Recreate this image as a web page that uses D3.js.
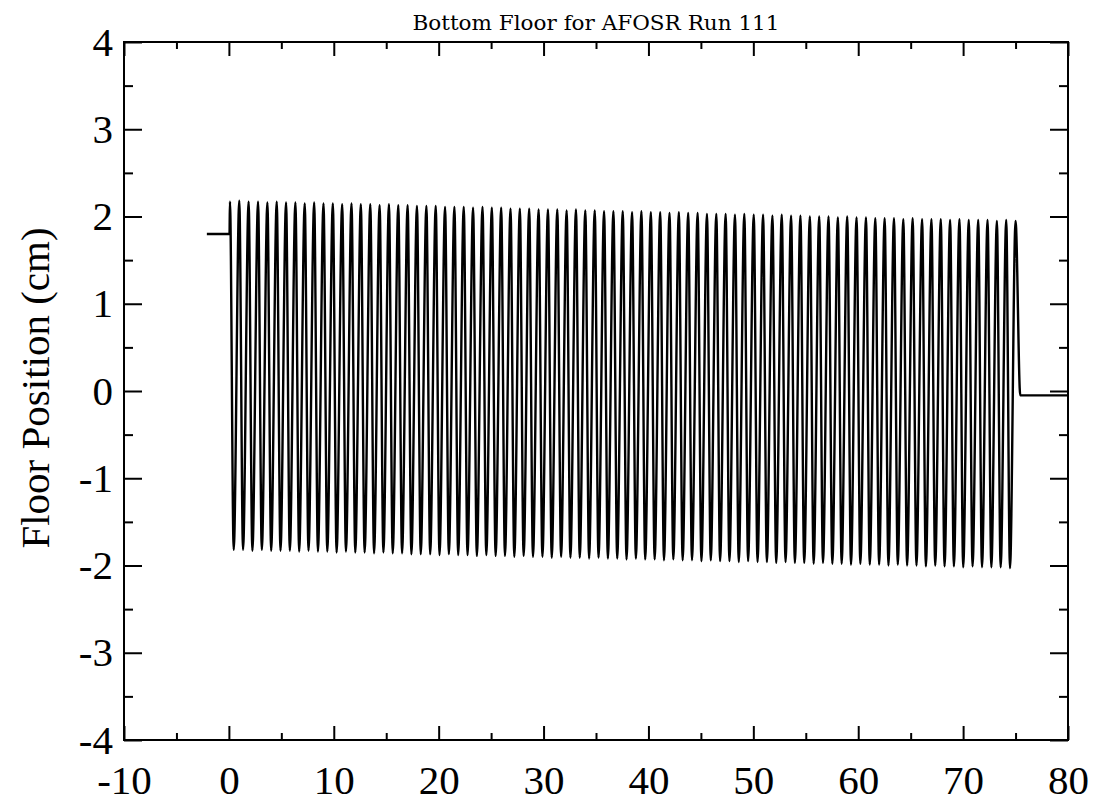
<!DOCTYPE html>
<html><head><meta charset="utf-8">
<script src="https://cdn.jsdelivr.net/npm/d3@7"></script>
<style>body{margin:0;background:#fff}svg{display:block}</style>
</head><body><svg id="c" width="1101" height="804"></svg>
<script>
const title = "Bottom Floor for AFOSR Run 111";
const yLabel = "Floor Position (cm)";
const xTicks = [-10,0,10,20,30,40,50,60,70,80];
const xMinor = [-5,5,15,25,35,45,55,65,75];
const yTicks = [-4,-3,-2,-1,0,1,2,3,4];
const yMinor = [-3.5,-2.5,-1.5,-0.5,0.5,1.5,2.5,3.5];
const leadX = [-2.1, 0.06];
const leadY = [1.80, 1.80];
const peakT = [0.10,0.99,1.88,2.78,3.67,4.56,5.45,6.34,7.23,8.13,9.02,9.91,10.80,11.69,12.58,13.48,14.37,15.26,16.15,17.04,17.93,18.83,19.72,20.61,21.50,22.39,23.28,24.18,25.07,25.96,26.85,27.74,28.63,29.53,30.42,31.31,32.20,33.09,33.98,34.88,35.77,36.66,37.55,38.44,39.33,40.23,41.12,42.01,42.90,43.79,44.69,45.58,46.47,47.36,48.25,49.14,50.04,50.93,51.82,52.71,53.60,54.49,55.39,56.28,57.17,58.06,58.95,59.84,60.74,61.63,62.52,63.41,64.30,65.19,66.09,66.98,67.87,68.76,69.65,70.54,71.44,72.33,73.22,74.11,75.00];
const peakV = [2.17,2.18,2.17,2.17,2.16,2.17,2.16,2.16,2.15,2.16,2.15,2.15,2.14,2.15,2.14,2.14,2.13,2.14,2.13,2.13,2.12,2.12,2.12,2.11,2.11,2.11,2.10,2.11,2.10,2.10,2.09,2.09,2.09,2.08,2.08,2.08,2.07,2.08,2.07,2.07,2.06,2.06,2.06,2.05,2.06,2.05,2.05,2.04,2.05,2.04,2.04,2.03,2.03,2.03,2.02,2.03,2.02,2.02,2.01,2.02,2.01,2.01,2.00,2.00,2.00,1.99,2.00,1.99,1.99,1.98,1.98,1.98,1.97,1.98,1.97,1.97,1.97,1.96,1.97,1.96,1.96,1.96,1.95,1.96,1.95];
const troughT = [0.46,1.35,2.24,3.14,4.03,4.92,5.81,6.70,7.59,8.49,9.38,10.27,11.16,12.05,12.94,13.84,14.73,15.62,16.51,17.40,18.29,19.19,20.08,20.97,21.86,22.75,23.64,24.54,25.43,26.32,27.21,28.10,28.99,29.89,30.78,31.67,32.56,33.45,34.34,35.24,36.13,37.02,37.91,38.80,39.69,40.59,41.48,42.37,43.26,44.15,45.05,45.94,46.83,47.72,48.61,49.50,50.40,51.29,52.18,53.07,53.96,54.85,55.75,56.64,57.53,58.42,59.31,60.20,61.10,61.99,62.88,63.77,64.66,65.55,66.45,67.34,68.23,69.12,70.01,70.90,71.80,72.69,73.58,74.47];
const troughV = [-1.82,-1.82,-1.83,-1.82,-1.83,-1.83,-1.83,-1.84,-1.83,-1.84,-1.84,-1.85,-1.84,-1.85,-1.85,-1.86,-1.85,-1.86,-1.86,-1.87,-1.87,-1.87,-1.88,-1.87,-1.88,-1.88,-1.89,-1.88,-1.89,-1.89,-1.90,-1.89,-1.90,-1.90,-1.91,-1.90,-1.91,-1.91,-1.92,-1.91,-1.92,-1.92,-1.93,-1.92,-1.93,-1.93,-1.94,-1.93,-1.94,-1.94,-1.95,-1.94,-1.95,-1.95,-1.96,-1.95,-1.96,-1.96,-1.97,-1.96,-1.97,-1.97,-1.98,-1.97,-1.98,-1.98,-1.99,-1.98,-1.99,-1.99,-2.00,-1.99,-2.00,-2.00,-2.01,-2.00,-2.01,-2.01,-2.02,-2.01,-2.02,-2.02,-2.02,-2.03];
const tailX = [75.45, 80];
const tailY = [-0.05, -0.05];

const L=124, R=1068, T=42, B=740;
const svg = d3.select("#c");
const x = d3.scaleLinear().domain([-10,80]).range([L,R]);
const y = d3.scaleLinear().domain([-4,4]).range([B,T]);
const font = "'Liberation Serif','Times New Roman',serif";
const fmt = d => String(d);

// data points
const pts = [];
leadX.forEach((v,i)=>pts.push([v,leadY[i]]));
peakT.forEach((t,i)=>{
  pts.push([t,peakV[i]]);
  if (i < troughT.length) pts.push([troughT[i],troughV[i]]);
});
tailX.forEach((v,i)=>pts.push([v,tailY[i]]));

svg.append("path").datum(pts)
  .attr("fill","none").attr("stroke","#000").attr("stroke-width",2.4)
  .attr("stroke-linejoin","round")
  .attr("d", d3.line().x(d=>x(d[0])).y(d=>y(d[1])).curve(d3.curveMonotoneX));

function styleAxis(g){
  g.select(".domain").remove();
  g.selectAll("line").attr("stroke","#000").attr("stroke-width",2);
  g.selectAll("text").attr("font-family",font).attr("font-size",41).attr("fill","#000");
}
// bottom
svg.append("g").attr("transform",`translate(0,${B})`)
  .call(d3.axisBottom(x).tickValues(xTicks).tickSize(-14).tickPadding(25).tickFormat(fmt))
  .call(styleAxis);
svg.append("g").attr("transform",`translate(0,${B})`)
  .call(d3.axisBottom(x).tickValues(xMinor).tickSize(-7).tickFormat(""))
  .call(styleAxis);
// top
svg.append("g").attr("transform",`translate(0,${T})`)
  .call(d3.axisTop(x).tickValues(xTicks).tickSize(-14).tickFormat(""))
  .call(styleAxis);
svg.append("g").attr("transform",`translate(0,${T})`)
  .call(d3.axisTop(x).tickValues(xMinor).tickSize(-7).tickFormat(""))
  .call(styleAxis);
// left
svg.append("g").attr("transform",`translate(${L},0)`)
  .call(d3.axisLeft(y).tickValues(yTicks).tickSize(-18).tickPadding(11).tickFormat(fmt))
  .call(styleAxis);
svg.append("g").attr("transform",`translate(${L},0)`)
  .call(d3.axisLeft(y).tickValues(yMinor).tickSize(-9).tickFormat(""))
  .call(styleAxis);
// right
svg.append("g").attr("transform",`translate(${R},0)`)
  .call(d3.axisRight(y).tickValues(yTicks).tickSize(-18).tickFormat(""))
  .call(styleAxis);
svg.append("g").attr("transform",`translate(${R},0)`)
  .call(d3.axisRight(y).tickValues(yMinor).tickSize(-9).tickFormat(""))
  .call(styleAxis);

// frame
svg.append("rect").attr("x",L).attr("y",T).attr("width",R-L).attr("height",B-T)
  .attr("fill","none").attr("stroke","#000").attr("stroke-width",2);

// title
svg.append("text").attr("x",(L+R)/2).attr("y",30).attr("text-anchor","middle")
  .attr("font-family","'DejaVu Serif',serif").attr("font-size",20)
  .attr("textLength",367).attr("lengthAdjust","spacingAndGlyphs")
  .text(title);
// y label
svg.append("text").attr("transform",`translate(49,${(T+B)/2-3}) rotate(-90)`)
  .attr("text-anchor","middle").attr("font-family",font).attr("font-size",41)
  .text(yLabel);
</script></body></html>
